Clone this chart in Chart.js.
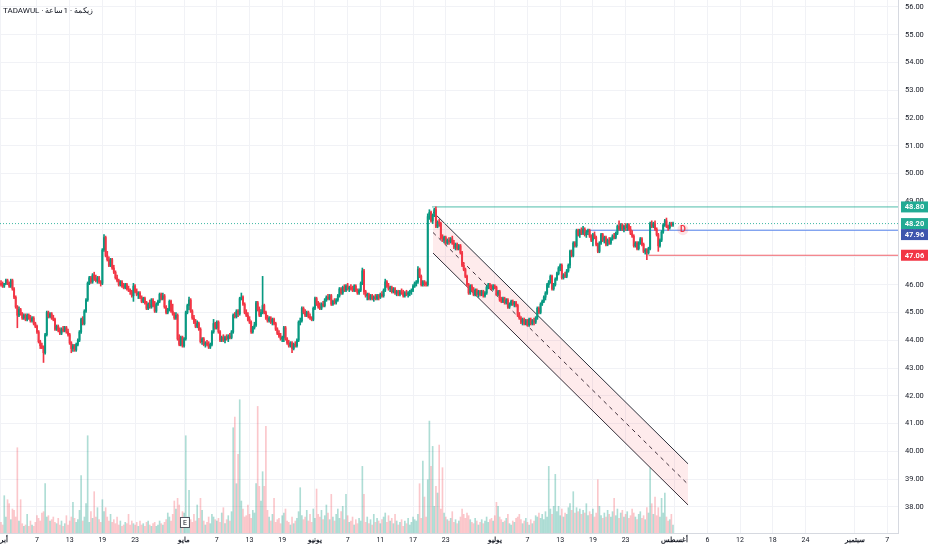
<!DOCTYPE html>
<html>
<head>
<meta charset="utf-8">
<script src="https://cdn.jsdelivr.net/npm/chart.js@4.4.1/dist/chart.umd.min.js"></script>
<style>
  html, body { margin: 0; padding: 0; background: #ffffff; }
  #wrap { width: 932px; height: 550px; }
</style>
</head>
<body>
<div id="wrap"><canvas id="chart" width="932" height="550"></canvas></div>
<script>
// hourly bars, one line per ~20 bars (one x tick interval)
const opens = [
  46.05,46.00,45.95,46.05,46.15,46.05,45.95,46.15,45.85,45.55,45.20,44.90,45.10,44.95,44.80,44.90,44.75,44.90,44.80,44.70,
  44.80,44.60,44.50,44.30,43.95,43.80,43.75,43.55,44.20,45.00,44.85,44.95,44.80,44.75,44.40,44.50,44.35,44.25,44.40,44.35,
  44.45,44.30,44.20,43.90,43.70,43.80,43.65,43.85,44.00,44.30,44.75,44.60,45.05,45.45,46.05,46.25,46.10,46.35,46.20,46.15,
  46.25,46.10,46.05,47.25,47.70,47.05,46.90,46.70,46.90,46.60,46.45,46.25,46.15,46.00,46.10,45.95,45.90,46.00,45.85,45.80,
  45.75,45.60,45.95,45.75,45.65,45.70,45.55,45.40,45.50,45.35,45.15,45.30,45.20,45.45,45.25,45.05,45.30,45.40,45.65,45.50,
  45.60,45.20,45.00,45.10,45.40,45.05,44.95,44.80,44.90,44.05,43.85,44.10,43.80,44.05,45.00,45.25,45.45,45.05,44.80,44.65,
  44.50,44.60,44.40,43.95,44.05,43.85,43.90,43.85,43.75,43.85,44.30,44.60,44.45,44.65,44.30,44.00,44.10,44.00,44.10,44.05,
  44.15,44.10,44.30,44.90,44.85,45.05,44.95,45.50,45.55,45.30,45.00,44.90,44.75,44.65,44.30,44.45,44.55,45.35,45.10,44.90,
  45.00,45.25,45.00,44.80,44.70,44.80,44.65,44.75,44.60,44.40,44.25,44.15,44.05,44.10,44.45,44.05,43.90,43.80,43.90,43.70,
  43.85,43.80,44.00,44.65,44.70,45.15,45.00,44.90,45.00,44.85,44.80,44.75,45.15,45.50,45.30,45.20,45.15,45.30,45.25,45.45,
  45.55,45.50,45.60,45.30,45.40,45.35,45.45,45.60,45.85,45.70,45.90,45.80,45.95,45.85,45.90,45.85,45.80,45.95,45.80,45.70,
  45.80,46.05,46.50,45.75,45.60,45.65,45.50,45.60,45.50,45.55,45.50,45.60,45.55,45.65,45.60,45.80,46.10,45.95,45.85,45.90,
  45.75,45.85,45.70,45.75,45.65,45.75,45.70,45.60,45.70,45.65,45.70,45.75,45.80,45.95,46.05,46.10,46.55,46.30,46.00,46.10,
  46.05,46.00,48.45,48.60,48.30,48.50,48.70,48.10,48.25,48.20,47.70,47.60,47.70,47.50,47.60,47.55,47.65,47.50,47.35,47.45,
  47.30,47.40,47.15,46.70,46.55,46.30,46.00,45.70,45.95,45.80,45.65,45.80,45.65,45.75,45.65,45.75,45.60,45.70,45.90,46.00,
  45.90,45.85,45.95,45.90,45.65,45.75,45.45,45.40,45.50,45.35,45.45,45.20,45.30,45.40,45.30,45.35,45.25,44.90,44.80,44.65,
  44.75,44.60,44.70,44.55,44.75,44.60,44.70,44.65,44.80,45.15,45.00,45.30,45.40,45.55,45.70,46.00,46.10,46.30,45.85,46.00,
  46.20,46.40,46.60,46.70,46.25,46.35,46.30,46.50,46.70,47.20,47.05,47.50,47.40,47.95,47.80,47.95,47.85,48.00,47.80,47.90,
  47.95,47.75,47.60,47.80,47.70,47.45,47.20,47.50,47.80,47.60,47.70,47.45,47.60,47.50,47.65,47.75,47.70,47.85,48.10,48.00,
  48.15,48.00,48.10,48.05,48.15,48.00,47.85,47.75,47.40,47.50,47.30,47.50,47.65,47.45,47.20,47.25,47.15,47.30,48.20,48.10,
  48.20,48.00,47.80,47.40,47.60,47.90,48.15,48.30,48.10,48.05,48.20,48.15
];
const highs = [
  46.15,46.10,46.05,46.20,46.20,46.10,46.20,46.20,45.90,45.60,45.25,45.20,45.15,45.00,44.95,44.95,44.95,44.95,44.90,44.85,
  44.85,44.65,44.55,44.35,44.00,43.90,43.80,44.25,45.05,45.05,45.00,45.00,44.90,44.80,44.55,44.55,44.45,44.45,44.50,44.50,
  44.50,44.40,44.25,43.95,43.85,43.85,43.90,44.05,44.35,44.80,44.85,45.10,45.50,46.10,46.30,46.30,46.40,46.45,46.35,46.30,
  46.30,46.15,47.30,47.80,47.75,47.20,47.00,46.95,46.95,46.70,46.50,46.35,46.20,46.15,46.15,46.05,46.05,46.05,45.95,45.85,
  45.80,46.05,46.00,45.85,45.75,45.75,45.60,45.55,45.55,45.40,45.35,45.45,45.50,45.50,45.40,45.35,45.45,45.70,45.70,45.70,
  45.65,45.25,45.15,45.45,45.45,45.30,45.00,45.00,44.95,44.20,44.15,44.15,44.10,45.05,45.30,45.55,45.50,45.10,44.90,44.75,
  44.70,44.65,44.45,44.10,44.10,43.95,44.00,43.95,43.90,44.35,44.75,44.65,44.70,44.70,44.35,44.15,44.20,44.15,44.20,44.20,
  44.25,44.35,44.95,45.00,45.10,45.10,45.55,45.70,45.60,45.35,45.10,45.00,44.85,44.70,44.50,44.65,45.40,45.40,45.20,45.10,
  46.30,45.30,45.05,44.90,44.85,44.85,44.80,44.80,44.65,44.45,44.35,44.25,44.15,44.50,44.50,44.10,44.00,43.95,43.95,43.90,
  43.95,44.05,44.70,44.80,45.20,45.20,45.10,45.05,45.05,44.95,44.85,45.20,45.55,45.55,45.40,45.35,45.35,45.40,45.50,45.60,
  45.65,45.65,45.65,45.45,45.50,45.50,45.65,45.90,45.90,45.95,46.00,46.00,46.05,45.95,46.00,45.95,46.00,46.00,45.85,45.85,
  46.10,46.60,46.55,45.80,45.70,45.70,45.65,45.65,45.60,45.65,45.65,45.65,45.70,45.75,45.85,46.20,46.15,46.05,45.95,45.95,
  45.90,45.90,45.80,45.80,45.80,45.85,45.80,45.75,45.80,45.75,45.80,45.85,46.00,46.10,46.15,46.65,46.60,46.35,46.15,46.15,
  46.10,48.55,48.70,48.65,48.55,48.75,48.80,48.30,48.35,48.25,47.80,47.75,47.75,47.65,47.70,47.70,47.75,47.60,47.50,47.50,
  47.45,47.45,47.20,46.80,46.60,46.35,46.05,46.00,46.00,45.90,45.85,45.85,45.80,45.80,45.80,45.80,45.75,45.95,46.05,46.05,
  46.00,46.00,46.00,45.95,45.80,45.80,45.55,45.55,45.55,45.50,45.50,45.35,45.45,45.45,45.40,45.40,45.30,45.00,44.85,44.80,
  44.80,44.75,44.75,44.80,44.80,44.75,44.80,44.85,45.20,45.20,45.35,45.45,45.60,45.75,46.05,46.15,46.35,46.35,46.05,46.25,
  46.45,46.65,46.75,46.75,46.40,46.45,46.55,46.75,47.25,47.25,47.55,47.55,48.00,48.00,48.00,48.05,48.10,48.05,47.95,48.00,
  48.00,47.80,47.85,47.90,47.75,47.50,47.55,47.85,47.85,47.75,47.75,47.65,47.70,47.70,47.80,47.85,47.90,48.15,48.30,48.20,
  48.20,48.15,48.20,48.20,48.20,48.10,47.95,47.80,47.55,47.55,47.55,47.70,47.70,47.50,47.30,47.30,47.35,48.25,48.30,48.25,
  48.30,48.05,47.85,47.65,47.95,48.20,48.35,48.40,48.15,48.25,48.25,48.25
];
const lows = [
  45.95,45.90,45.90,46.00,46.00,45.90,45.90,45.80,45.50,45.15,44.45,44.85,44.90,44.75,44.75,44.70,44.70,44.75,44.65,44.65,
  44.55,44.45,44.25,43.90,43.70,43.70,43.20,43.50,44.15,44.80,44.80,44.75,44.70,44.35,44.35,44.30,44.20,44.20,44.30,44.30,
  44.25,44.15,43.85,43.55,43.60,43.60,43.60,43.80,43.95,44.25,44.55,44.55,45.00,45.40,46.00,46.05,46.05,46.15,46.10,46.05,
  46.05,45.95,46.00,47.20,47.00,46.85,46.65,46.65,46.55,46.40,46.20,46.10,45.95,45.95,45.90,45.85,45.85,45.80,45.75,45.65,
  45.55,45.40,45.70,45.60,45.50,45.50,45.35,45.35,45.30,45.10,45.10,45.15,45.15,45.20,45.00,45.00,45.25,45.35,45.45,45.45,
  45.15,44.95,44.95,45.05,45.00,44.90,44.75,44.75,44.00,43.80,43.80,43.75,43.75,44.00,44.95,45.10,45.00,44.75,44.60,44.45,
  44.45,44.35,43.90,43.85,43.80,43.75,43.80,43.70,43.70,43.80,44.25,44.40,44.40,44.25,43.95,43.95,43.95,43.90,44.00,43.95,
  44.05,44.05,44.25,44.80,44.80,44.85,44.90,45.45,45.25,44.95,44.85,44.70,44.60,44.25,44.25,44.40,44.50,45.05,44.85,44.85,
  44.95,44.95,44.75,44.65,44.65,44.60,44.55,44.55,44.35,44.20,44.10,44.00,43.95,43.95,44.00,43.85,43.75,43.75,43.55,43.65,
  43.75,43.75,43.95,44.55,44.65,44.95,44.85,44.85,44.80,44.75,44.70,44.70,45.10,45.25,45.15,45.10,45.10,45.20,45.20,45.40,
  45.45,45.45,45.25,45.25,45.30,45.30,45.40,45.55,45.65,45.65,45.75,45.75,45.80,45.75,45.80,45.75,45.75,45.75,45.65,45.65,
  45.75,46.00,45.65,45.55,45.45,45.45,45.45,45.45,45.40,45.45,45.45,45.45,45.50,45.55,45.55,45.75,45.90,45.80,45.75,45.70,
  45.70,45.65,45.60,45.60,45.60,45.65,45.55,45.55,45.60,45.55,45.60,45.65,45.75,45.90,45.95,46.05,46.25,45.95,45.95,45.95,
  45.95,45.95,48.35,48.25,48.20,48.45,48.05,48.05,48.10,47.65,47.55,47.50,47.45,47.45,47.45,47.50,47.45,47.30,47.25,47.25,
  47.25,47.10,46.65,46.50,46.25,45.95,45.65,45.65,45.75,45.60,45.60,45.60,45.55,45.60,45.60,45.55,45.55,45.65,45.85,45.85,
  45.80,45.80,45.85,45.60,45.60,45.40,45.35,45.35,45.30,45.30,45.15,45.15,45.25,45.25,45.20,45.20,44.85,44.75,44.60,44.55,
  44.55,44.55,44.50,44.50,44.55,44.55,44.55,44.60,44.75,44.95,44.95,45.25,45.35,45.45,45.65,45.90,46.05,45.80,45.80,45.95,
  46.15,46.35,46.50,46.20,46.20,46.25,46.25,46.45,46.60,47.00,47.00,47.35,47.35,47.75,47.70,47.80,47.80,47.75,47.70,47.80,
  47.70,47.55,47.40,47.65,47.40,47.15,47.15,47.45,47.55,47.50,47.40,47.40,47.45,47.45,47.60,47.65,47.65,47.80,47.95,47.95,
  47.95,47.90,47.95,47.95,47.95,47.80,47.70,47.35,47.35,47.25,47.25,47.45,47.40,47.15,47.10,46.90,47.10,47.25,48.05,48.05,
  47.95,47.75,47.20,47.35,47.55,47.85,48.10,48.05,47.95,48.00,48.10,48.10
];
const closes = [
  46.00,45.95,46.05,46.15,46.05,45.95,46.15,45.85,45.55,45.20,44.90,45.10,44.95,44.80,44.90,44.75,44.90,44.80,44.70,44.80,
  44.60,44.50,44.30,43.95,43.80,43.75,43.55,44.20,45.00,44.85,44.95,44.80,44.75,44.40,44.50,44.35,44.25,44.40,44.35,44.45,
  44.30,44.20,43.90,43.70,43.80,43.65,43.85,44.00,44.30,44.75,44.60,45.05,45.45,46.05,46.25,46.10,46.35,46.20,46.15,46.25,
  46.10,46.05,47.25,47.70,47.05,46.90,46.70,46.90,46.60,46.45,46.25,46.15,46.00,46.10,45.95,45.90,46.00,45.85,45.80,45.75,
  45.60,45.95,45.75,45.65,45.70,45.55,45.40,45.50,45.35,45.15,45.30,45.20,45.45,45.25,45.05,45.30,45.40,45.65,45.50,45.60,
  45.20,45.00,45.10,45.40,45.05,44.95,44.80,44.90,44.05,43.85,44.10,43.80,44.05,45.00,45.25,45.45,45.05,44.80,44.65,44.50,
  44.60,44.40,43.95,44.05,43.85,43.90,43.85,43.75,43.85,44.30,44.60,44.45,44.65,44.30,44.00,44.10,44.00,44.10,44.05,44.15,
  44.10,44.30,44.90,44.85,45.05,44.95,45.50,45.55,45.30,45.00,44.90,44.75,44.65,44.30,44.45,44.55,45.35,45.10,44.90,45.00,
  45.25,45.00,44.80,44.70,44.80,44.65,44.75,44.60,44.40,44.25,44.15,44.05,44.10,44.45,44.05,43.90,43.80,43.90,43.70,43.85,
  43.80,44.00,44.65,44.70,45.15,45.00,44.90,45.00,44.85,44.80,44.75,45.15,45.50,45.30,45.20,45.15,45.30,45.25,45.45,45.55,
  45.50,45.60,45.30,45.40,45.35,45.45,45.60,45.85,45.70,45.90,45.80,45.95,45.85,45.90,45.85,45.80,45.95,45.80,45.70,45.80,
  46.05,46.50,45.75,45.60,45.65,45.50,45.60,45.50,45.55,45.50,45.60,45.55,45.65,45.60,45.80,46.10,45.95,45.85,45.90,45.75,
  45.85,45.70,45.75,45.65,45.75,45.70,45.60,45.70,45.65,45.70,45.75,45.80,45.95,46.05,46.10,46.55,46.30,46.00,46.10,46.05,
  46.00,48.45,48.60,48.30,48.50,48.70,48.10,48.25,48.20,47.70,47.60,47.70,47.50,47.60,47.55,47.65,47.50,47.35,47.45,47.30,
  47.40,47.15,46.70,46.55,46.30,46.00,45.70,45.95,45.80,45.65,45.80,45.65,45.75,45.65,45.75,45.60,45.70,45.90,46.00,45.90,
  45.85,45.95,45.90,45.65,45.75,45.45,45.40,45.50,45.35,45.45,45.20,45.30,45.40,45.30,45.35,45.25,44.90,44.80,44.65,44.75,
  44.60,44.70,44.55,44.75,44.60,44.70,44.65,44.80,45.15,45.00,45.30,45.40,45.55,45.70,46.00,46.10,46.30,45.85,46.00,46.20,
  46.40,46.60,46.70,46.25,46.35,46.30,46.50,46.70,47.20,47.05,47.50,47.40,47.95,47.80,47.95,47.85,48.00,47.80,47.90,47.95,
  47.75,47.60,47.80,47.70,47.45,47.20,47.50,47.80,47.60,47.70,47.45,47.60,47.50,47.65,47.75,47.70,47.85,48.10,48.00,48.15,
  48.00,48.10,48.05,48.15,48.00,47.85,47.75,47.40,47.50,47.30,47.50,47.65,47.45,47.20,47.25,47.15,47.30,48.20,48.10,48.20,
  48.00,47.80,47.40,47.60,47.90,48.15,48.30,48.10,48.05,48.20,48.15,48.20
];
const volumes = [
  8,6,28,12,25,22,10,18,17,12,64,9,25,7,5,6,14,5,9,6,
  5,8,13,11,9,15,16,37,12,13,9,10,12,8,7,11,6,9,5,7,
  13,6,9,12,23,11,8,10,17,43,9,12,22,73,8,16,11,31,12,19,
  10,8,25,16,19,12,9,14,8,10,7,12,6,9,5,6,8,7,14,6,
  9,7,6,8,5,9,6,7,5,8,9,6,5,7,8,5,6,9,7,6,
  8,10,15,12,9,14,24,18,26,21,11,16,15,73,12,32,10,8,14,9,
  21,11,26,17,9,6,8,12,7,14,12,10,9,11,8,15,19,7,10,13,
  9,16,79,87,37,59,100,24,18,12,13,21,14,11,17,15,37,95,35,24,
  46,35,80,17,12,9,14,26,8,10,11,7,13,15,18,9,8,6,12,7,
  9,11,16,34,13,10,12,17,9,14,8,18,11,33,14,12,17,10,13,21,
  15,10,29,12,9,14,18,11,16,20,10,29,13,8,9,12,6,10,7,11,
  9,50,29,8,12,7,10,6,14,8,11,9,7,10,12,15,8,13,9,11,
  7,14,9,6,8,10,5,9,7,11,6,8,12,10,9,14,37,11,54,27,
  12,40,84,50,65,20,35,30,66,18,49,15,12,10,9,11,16,8,10,7,
  9,12,18,14,11,15,13,10,8,7,11,9,6,8,10,7,9,12,8,10,
  11,9,13,23,20,12,10,8,9,11,14,7,6,9,8,11,12,14,10,7,
  9,11,8,6,10,7,9,13,12,15,11,14,10,16,12,50,18,14,20,44,
  16,20,13,18,12,15,14,19,22,17,31,15,19,16,18,14,17,15,22,13,
  16,14,18,12,15,40,20,13,11,15,12,17,14,12,16,26,13,18,11,15,
  17,12,14,16,11,13,18,15,12,10,14,16,11,13,10,19,15,49,22,14,
  27,13,19,12,26,15,30,12,9,10,14,6
];

// x axis: bar index positions of the date labels
const xTickPos = [-0.3, 22, 42, 62, 82, 112, 132, 152, 172, 192, 212, 232, 252, 272, 302, 322, 342, 362, 382, 412, 432, 452, 472, 492, 522, 542];
const xTickLabels = ['أبريل', '7', '13', '19', '23', 'مايو', '7', '13', '19', 'يونيو', '7', '11', '17', '23', 'يوليو', '7', '13', '19', '23', 'أغسطس', '6', '12', '18', '24', 'سبتمبر', '7'];
const monthLabels = ['أبريل', 'مايو', 'يونيو', 'يوليو', 'أغسطس', 'سبتمبر'];
const priceTicks = [38, 39, 40, 41, 42, 43, 44, 45, 46, 47, 48, 49, 50, 51, 52, 53, 54, 55, 56];

// drawings: price levels and a descending channel
const levelPrices = [48.80, 48.20, 47.96, 47.06];
const levelStarts = [263.6, -0.61, 355, 396];
const channelX = [264.2, 420.2];
const channelUpper = [48.62, 39.55];
const channelMid = [47.88, 38.81];
const channelLower = [47.14, 38.07];

const xMin = -0.61, xMax = 548.6;
const yMin = 37.06, yMax = 56.25;

const upColor = '#089981';
const downColor = '#f23645';
const levelColors = ['rgba(34,171,148,0.8)', '#3fb8a4', '#5b87ec', '#f0616b'];
const tagColors = ['#22ab94', '#22ab94', '#3e56ad', '#f23645'];

const idx = closes.map((c, i) => i);
const isUp = idx.map(i => closes[i] >= opens[i]);
const candleColors = idx.map(i => isUp[i] ? upColor : downColor);
const volColors = idx.map(i => isUp[i] ? 'rgba(8,153,129,0.33)' : 'rgba(242,54,69,0.28)');

function segment(x0, x1, y0, y1) {
    return [{ x: x0, y: y0 }, { x: x1, y: y1 }];
}

const lineBase = { type: 'line', pointRadius: 0, borderWidth: 1, tension: 0, fill: false };

const datasets = [
    {
        type: 'bar', label: 'volume', yAxisID: 'yv', order: 6,
        data: idx.map(i => ({ x: i, y: volumes[i] })),
        backgroundColor: volColors, barThickness: 1, grouped: false
    },
    Object.assign({}, lineBase, {
        label: 'channel top', order: 5,
        data: segment(channelX[0], channelX[1], channelUpper[0], channelUpper[1]),
        borderColor: '#2a2e39', fill: '+1', backgroundColor: 'rgba(242,54,69,0.1)'
    }),
    Object.assign({}, lineBase, {
        label: 'channel bottom', order: 5,
        data: segment(channelX[0], channelX[1], channelLower[0], channelLower[1]),
        borderColor: '#2a2e39'
    }),
    Object.assign({}, lineBase, {
        label: 'channel mid', order: 5,
        data: segment(channelX[0], channelX[1], channelMid[0], channelMid[1]),
        borderColor: '#2a2e39', borderDash: [4, 4]
    })
];

levelPrices.forEach((p, k) => {
    datasets.push(Object.assign({}, lineBase, {
        label: 'level ' + p, order: k === 1 ? 3 : 4,
        data: segment(levelStarts[k], xMax, p, p),
        borderColor: levelColors[k],
        borderDash: k === 1 ? [1, 2] : []
    }));
});

datasets.push({
    type: 'bar', label: 'wicks', order: 2,
    data: idx.map(i => ({ x: i, y: [lows[i], highs[i]] })),
    backgroundColor: candleColors, barThickness: 1, grouped: false
});
datasets.push({
    type: 'bar', label: 'bodies', order: 1,
    data: idx.map(i => ({ x: i, y: [opens[i], closes[i]] })),
    backgroundColor: candleColors, barThickness: 1.3, grouped: false, minBarLength: 1
});

const overlay = {
    id: 'overlay',
    afterDatasetsDraw(chart) {
        const { ctx, chartArea, scales } = chart;
        ctx.save();
        // "D" marker on the blue level
        const dx = scales.x.getPixelForValue(417);
        const dy = scales.y.getPixelForValue(47.98);
        ctx.beginPath();
        ctx.arc(dx, dy, 5.5, 0, Math.PI * 2);
        ctx.fillStyle = 'rgba(242,54,69,0.14)';
        ctx.fill();
        ctx.fillStyle = '#f23645';
        ctx.font = 'bold 9px Roboto';
        ctx.textAlign = 'center';
        ctx.textBaseline = 'middle';
        ctx.fillText('D', dx, dy + 0.5);
        // earnings marker
        const ex = scales.x.getPixelForValue(112.5);
        const ey = chartArea.bottom - 10.5;
        ctx.fillStyle = '#ffffff';
        ctx.fillRect(ex - 5, ey - 5.5, 10, 11);
        ctx.strokeStyle = '#50535e';
        ctx.lineWidth = 1;
        ctx.strokeRect(ex - 4.5, ey - 5, 9, 10);
        ctx.fillStyle = '#131722';
        ctx.font = '7px Roboto';
        ctx.fillText('E', ex, ey + 0.5);
        ctx.restore();
    },
    afterDraw(chart) {
        const { ctx, chartArea, scales } = chart;
        ctx.save();
        // title
        ctx.fillStyle = '#131722';
        ctx.font = '8px Roboto';
        ctx.textAlign = 'left';
        ctx.textBaseline = 'middle';
        ctx.fillText('TADAWUL · زيكمة · 1ساعة', 3, 11);
        // price tags on the axis
        const h = 11;
        let prevBottom = -Infinity;
        ctx.font = 'bold 7.5px Roboto';
        ctx.textAlign = 'center';
        levelPrices.forEach((p, k) => {
            let cy = scales.y.getPixelForValue(p);
            if (cy - h / 2 < prevBottom) cy = prevBottom + h / 2;
            prevBottom = cy + h / 2;
            ctx.fillStyle = tagColors[k];
            ctx.fillRect(chartArea.right + 3, cy - h / 2, 27, h);
            ctx.fillStyle = '#ffffff';
            ctx.fillText(p.toFixed(2), chartArea.right + 16.5, cy + 0.5);
        });
        ctx.restore();
    }
};

Chart.defaults.font.family = 'Roboto';

new Chart(document.getElementById('chart'), {
    type: 'bar',
    data: { datasets: datasets },
    options: {
        responsive: false,
        animation: false,
        events: [],
        layout: { padding: 0, autoPadding: false },
        plugins: { legend: { display: false }, tooltip: { enabled: false } },
        scales: {
            x: {
                type: 'linear', min: xMin, max: xMax, offset: false,
                grid: { color: '#f1f2f6', offset: false, drawTicks: false },
                border: { color: '#d6d9e0' },
                afterBuildTicks: s => { s.ticks = xTickPos.map(v => ({ value: v })); },
                afterFit: s => { s.height = 17; s.paddingLeft = 0; s.paddingRight = 0; },
                ticks: {
                    autoSkip: false, maxRotation: 0, padding: 3, color: '#131722',
                    callback: (v, i) => xTickLabels[i],
                    font: c => ({
                        family: 'Roboto', size: 7,
                        weight: monthLabels.includes(xTickLabels[c.index]) ? 'bold' : 'normal'
                    })
                }
            },
            y: {
                type: 'linear', position: 'right', min: yMin, max: yMax,
                grid: { color: '#f1f2f6', drawTicks: false },
                border: { color: '#d6d9e0' },
                afterBuildTicks: s => { s.ticks = priceTicks.map(v => ({ value: v })); },
                afterFit: s => { s.width = 34; s.paddingTop = 0; s.paddingBottom = 0; },
                ticks: {
                    padding: 7, color: '#131722',
                    font: { family: 'Roboto', size: 7.5 },
                    callback: v => v.toFixed(2)
                }
            },
            yv: {
                type: 'linear', display: false, min: 0, max: 400
            }
        }
    },
    plugins: [overlay]
});
</script>
</body>
</html>
